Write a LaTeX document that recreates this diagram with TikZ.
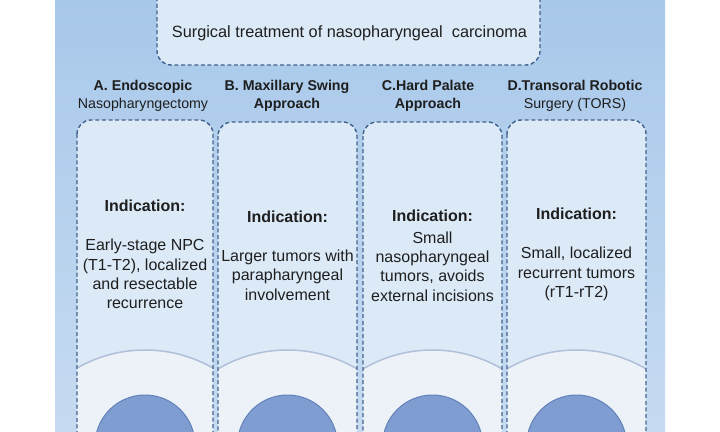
\documentclass[tikz,border=0pt]{standalone}
\usepackage{fontspec}
\setmainfont{Liberation Sans}
\definecolor{bgtop}{HTML}{A8C8EA}
\definecolor{bgbot}{HTML}{C6DBF1}
\definecolor{boxfill}{HTML}{DCEAF8}
\definecolor{dashc}{HTML}{41628F}
\definecolor{lowfill}{HTML}{EDF2F9}
\definecolor{arcc}{HTML}{AFC0D8}
\definecolor{discfill}{HTML}{7F9DD0}
\definecolor{discline}{HTML}{6282B8}
\definecolor{txt}{HTML}{1E1E1E}
\tikzset{
  dashedbox/.style={draw=dashc, line width=1.4pt, dash pattern=on 4pt off 2.6pt, rounded corners=14pt},
  headfont/.style={font=\fontsize{14.2}{17.5}\selectfont, text=txt, align=center},
  indfont/.style={font=\bfseries\fontsize{16}{19.5}\selectfont, text=txt, align=center},
  bodyfont/.style={font=\fontsize{16}{19.4}\selectfont, text=txt, align=center},
}
\begin{document}
\begin{tikzpicture}[x=1pt,y=-1pt]
\useasboundingbox (0,0) rectangle (720,431);
\clip (0,0) rectangle (720,431);
\fill[white] (0,0) rectangle (720,431);
% background panel
\shade[top color=bgtop, bottom color=bgbot] (55,0) rectangle (665,431);
% top box
\fill[boxfill, rounded corners=14pt] (157,-30) rectangle (540,65);
\draw[dashedbox] (157,-30) rectangle (540,65);
\node[font=\fontsize{16.3}{19}\selectfont, text=txt] (title) at (349.5,33) {Surgical treatment of nasopharyngeal\ \ carcinoma};
% columns
\foreach \l/\r/\t/\n in {77/213/120/A, 218/357/122/B, 363/502/122/C, 507/646/120/D}{
  \pgfmathsetmacro{\c}{(\l+\r)/2}
  \fill[boxfill, rounded corners=14pt] (\l,\t) rectangle (\r,470);
  \begin{scope}
    \clip[rounded corners=14pt] (\l,\t) rectangle (\r,470);
    \fill[lowfill] (\c,487) circle (137);
    \draw[arcc, line width=1.5pt] (\c,487) circle (137);
  \end{scope}
  \draw[discline, fill=discfill, line width=1pt] (\c,445) circle (50);
  \draw[dashedbox] (\l,\t) rectangle (\r,470);
}
% headings
\node[headfont] (hA) at (143,96) {\textbf{A. Endoscopic}\\Nasopharyngectomy};
\node[headfont] (hB) at (287,96) {\textbf{B. Maxillary Swing}\\\textbf{Approach}};
\node[headfont] (hC) at (428,96) {\textbf{C.Hard Palate}\\\textbf{Approach}};
\node[headfont] (hD) at (575,96) {\textbf{D.Transoral Robotic}\\Surgery (TORS)};
% indications
\node[indfont] (iA) at (145,206) {Indication:};
\node[indfont] (iB) at (287.5,217) {Indication:};
\node[indfont] (iC) at (432.5,216) {Indication:};
\node[indfont] (iD) at (576.5,214) {Indication:};
\node[bodyfont] (bA) at (145,274) {Early-stage NPC\\(T1-T2), localized\\and resectable\\recurrence};
\node[bodyfont] (bB) at (287.5,275) {Larger tumors with\\parapharyngeal\\involvement};
\node[bodyfont] (bC) at (432.5,266.5) {Small\\nasopharyngeal\\tumors, avoids\\external incisions};
\node[bodyfont] (bD) at (576.5,274) {Small, localized\\recurrent tumors\\(rT1-rT2)};
\end{tikzpicture}
\end{document}
